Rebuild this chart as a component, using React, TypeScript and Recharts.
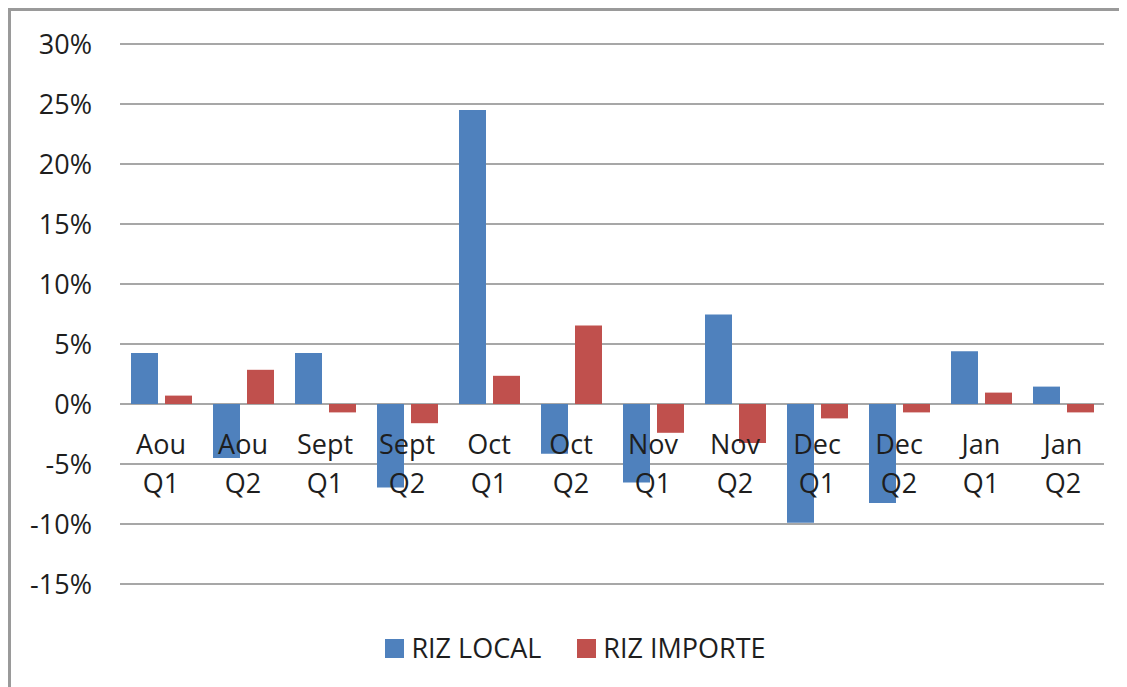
import { Bar, BarChart, CartesianGrid, Legend, XAxis, YAxis } from 'recharts'

const months = ['Aou', 'Aou', 'Sept', 'Sept', 'Oct', 'Oct', 'Nov', 'Nov', 'Dec', 'Dec', 'Jan', 'Jan']
const halves = ['Q1', 'Q2', 'Q1', 'Q2', 'Q1', 'Q2', 'Q1', 'Q2', 'Q1', 'Q2', 'Q1', 'Q2']
const rizLocal = [4.25, -4.5, 4.25, -6.95, 24.5, -4.15, -6.55, 7.45, -9.9, -8.25, 4.4, 1.45]
const rizImporte = [0.7, 2.85, -0.7, -1.6, 2.35, 6.55, -2.4, -3.25, -1.2, -0.7, 0.95, -0.7]
const yTicks = [-15, -10, -5, 0, 5, 10, 15, 20, 25, 30]

const data = months.map((m, i) => ({
  key: `${m} ${halves[i]}`,
  month: m,
  half: halves[i],
  local: rizLocal[i],
  importe: rizImporte[i],
}))

const series = [
  { key: 'local', name: 'RIZ LOCAL', color: '#4F81BD' },
  { key: 'importe', name: 'RIZ IMPORTE', color: '#C0504D' },
]

const FONT = '"Open Sans", sans-serif'
const TEXT = '#1e1e1e'

// labels sit just under the zero line, like the Excel original
function CategoryTick(props: any) {
  const { x, y, payload } = props
  const row = data[payload.index] ?? data.find((d) => d.key === payload.value)
  return (
    <g>
      <text x={x} y={y - 141} textAnchor="middle" dominantBaseline="central" fill={TEXT} fontSize={27} fontFamily={FONT}>
        {row?.month}
      </text>
      <text x={x} y={y - 102} textAnchor="middle" dominantBaseline="central" fill={TEXT} fontSize={27} fontFamily={FONT}>
        {row?.half}
      </text>
    </g>
  )
}

function LegendContent() {
  return (
    <div style={{ display: 'flex', justifyContent: 'center', gap: 36, paddingLeft: 36, fontFamily: FONT, fontSize: 27, lineHeight: '38px', color: TEXT }}>
      {series.map((s) => (
        <div key={s.key} style={{ display: 'flex', alignItems: 'center', gap: 7 }}>
          <span style={{ display: 'inline-block', width: 19, height: 19, background: s.color }} />
          <span>{s.name}</span>
        </div>
      ))}
    </div>
  )
}

export default function App() {
  return (
    <div style={{ width: 1117, height: 677, borderLeft: '3px solid #9a9a9a', borderTop: '3px solid #9a9a9a' }}>
      <BarChart
        width={1117}
        height={677}
        data={data}
        margin={{ top: 33, right: 24, bottom: 21, left: 0 }}
        barSize={27}
        barGap={7}
      >
        <CartesianGrid vertical={false} stroke="#8a8a8a" strokeWidth={1.5} />
        <YAxis
          width={109}
          domain={[-15, 30]}
          ticks={yTicks}
          interval={0}
          axisLine={false}
          tickLine={false}
          tickSize={0}
          tickMargin={28}
          tickFormatter={(v) => `${v}%`}
          tick={{ fill: TEXT, fontSize: 27, fontFamily: FONT }}
        />
        {series.map((s) => (
          <Bar key={s.key} dataKey={s.key} name={s.name} fill={s.color} isAnimationActive={false} />
        ))}
        <XAxis
          dataKey="key"
          height={45}
          interval={0}
          axisLine={false}
          tickLine={false}
          tickSize={0}
          tickMargin={0}
          tick={<CategoryTick />}
        />
        <Legend verticalAlign="bottom" content={<LegendContent />} />
      </BarChart>
    </div>
  )
}
